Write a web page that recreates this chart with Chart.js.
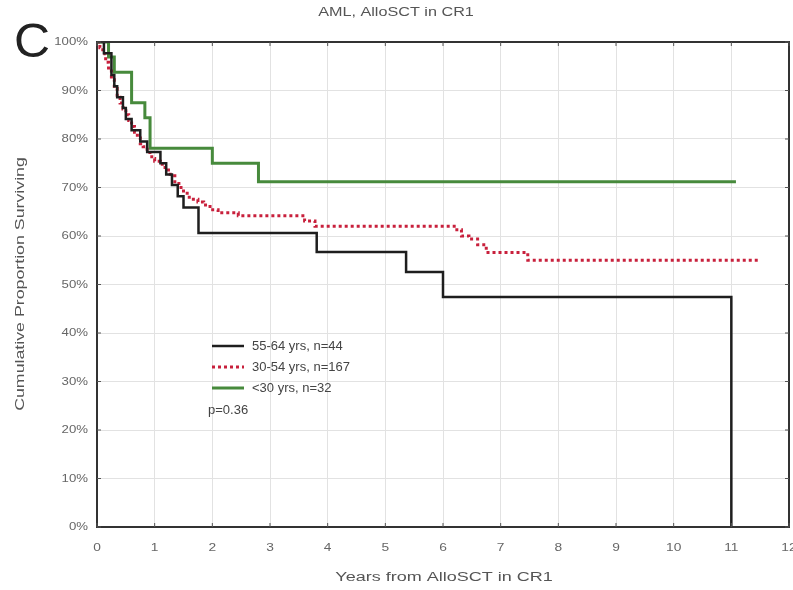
<!DOCTYPE html>
<html>
<head>
<meta charset="utf-8">
<title>AML, AlloSCT in CR1</title>
<script src="https://cdn.jsdelivr.net/npm/chart.js@4"></script>
<style>
  html, body { margin: 0; padding: 0; background: #fff; }
  #wrap { width: 793px; height: 590px; position: relative; }
</style>
</head>
<body>
<div id="wrap"><canvas id="km"></canvas></div>
<script>
// Kaplan-Meier survival by age group (years, % surviving)
const oldTimes = [0, 0.12, 0.25, 0.3, 0.35, 0.45, 0.5, 0.6, 0.75, 0.87, 1.1, 1.2, 1.3, 1.4, 1.5, 1.76, 3.81, 5.36, 6.0, 11.0, 11.0];
const oldSurv  = [100, 97.7, 93.2, 90.9, 88.6, 86.4, 84.1, 81.8, 79.5, 77.3, 75.0, 72.7, 70.5, 68.2, 65.9, 60.6, 56.7, 52.6, 47.4, 47.4, 0];

const midTimes = [0, 0.05, 0.1, 0.15, 0.2, 0.25, 0.3, 0.35, 0.4, 0.45, 0.5, 0.55, 0.6, 0.65, 0.7, 0.75, 0.8, 0.87, 0.95, 1.0, 1.1, 1.18, 1.27, 1.35, 1.42, 1.5, 1.6, 1.75, 1.85, 1.96, 2.1, 2.45, 3.6, 3.78, 6.24, 6.32, 6.45, 6.6, 6.75, 7.47, 11.5];
const midSurv  = [100, 98.8, 97.6, 95.8, 94.0, 92.2, 90.4, 88.6, 87.4, 86.2, 85.0, 83.8, 82.6, 81.4, 80.2, 79.0, 78.4, 77.2, 76.0, 75.4, 74.8, 73.6, 72.4, 71.2, 70.0, 68.8, 67.6, 67.0, 66.4, 65.4, 64.8, 64.2, 63.1, 62.0, 61.3, 60.0, 59.4, 58.2, 56.6, 55.0, 55.0];

const youngTimes = [0, 0.2, 0.3, 0.6, 0.83, 0.92, 2.0, 2.8, 11.08];
const youngSurv  = [100, 96.9, 93.75, 87.5, 84.4, 78.1, 75.0, 71.2, 71.2];

const groupLabels = ['55-64 yrs, n=44', '30-54 yrs, n=167', '<30 yrs, n=32'];
const pValueText = 'p=0.36';

const FONT = '"Liberation Sans", Arial, sans-serif';

function toPoints(times, surv) {
    return times.map((t, i) => ({x: t, y: surv[i]}));
}

// text drawn a bit wider than the font's normal proportions
function wideText(ctx, text, x, y, sx, align, angle) {
    ctx.save();
    ctx.translate(x, y);
    if (angle) ctx.rotate(angle);
    ctx.scale(sx, 1);
    ctx.textAlign = align;
    ctx.fillText(text, 0, 0);
    ctx.restore();
}

// titles, panel letter, tick labels, inner ticks, frame and the in-plot legend
const decorations = {
    id: 'decorations',
    afterDraw(chart) {
        const ctx = chart.ctx;
        const area = chart.chartArea;
        const xs = chart.scales.x, ys = chart.scales.y;
        ctx.save();

        // frame
        ctx.strokeStyle = '#333';
        ctx.lineWidth = 2;
        ctx.strokeRect(area.left, area.top, area.right - area.left, area.bottom - area.top);

        // short inward tick marks
        ctx.lineWidth = 1;
        ctx.strokeStyle = '#555';
        xs.ticks.forEach(t => {
            const px = xs.getPixelForValue(t.value);
            ctx.beginPath();
            ctx.moveTo(px, area.bottom); ctx.lineTo(px, area.bottom - 4);
            ctx.moveTo(px, area.top); ctx.lineTo(px, area.top + 4);
            ctx.stroke();
        });
        ys.ticks.forEach(t => {
            const py = ys.getPixelForValue(t.value);
            ctx.beginPath();
            ctx.moveTo(area.left, py); ctx.lineTo(area.left + 4, py);
            ctx.moveTo(area.right, py); ctx.lineTo(area.right - 4, py);
            ctx.stroke();
        });

        ctx.textBaseline = 'middle';

        // tick labels
        ctx.fillStyle = '#666';
        ctx.font = '11px ' + FONT;
        xs.ticks.forEach(t => {
            wideText(ctx, String(t.value), xs.getPixelForValue(t.value), 548, 1.25, 'center');
        });
        ys.ticks.forEach(t => {
            wideText(ctx, t.value + '%', area.left - 9, ys.getPixelForValue(t.value), 1.2, 'right');
        });

        ctx.fillStyle = '#555';
        ctx.font = '12px ' + FONT;
        // chart title
        wideText(ctx, 'AML, AlloSCT in CR1', 396, 13, 1.35, 'center');
        // x axis title
        wideText(ctx, 'Years from AlloSCT in CR1', 444, 578, 1.5, 'center');
        // y axis title
        wideText(ctx, 'Cumulative Proportion Surviving', 21, 284, 1.48, 'center', -Math.PI / 2);

        // panel letter
        ctx.fillStyle = '#222';
        ctx.font = '49px ' + FONT;
        wideText(ctx, 'C', 14, 43, 1.02, 'left');

        // legend
        const rows = [346, 367, 388];
        ctx.font = '13px ' + FONT;
        chart.data.datasets.forEach((ds, i) => {
            const y = rows[i];
            ctx.save();
            ctx.strokeStyle = ds.borderColor;
            ctx.lineWidth = ds.borderWidth;
            ctx.setLineDash(ds.borderDash || []);
            ctx.beginPath();
            ctx.moveTo(212, y);
            ctx.lineTo(244, y);
            ctx.stroke();
            ctx.restore();
            ctx.fillStyle = '#444';
            ctx.textAlign = 'left';
            ctx.fillText(groupLabels[i], 252, y);
        });
        ctx.fillText(pValueText, 208, 410);

        ctx.restore();
    }
};

const ctx = document.getElementById('km').getContext('2d');
const chart = new Chart(ctx, {
    type: 'line',
    data: {
        datasets: [
            {
                label: groupLabels[0],
                data: toPoints(oldTimes, oldSurv),
                borderColor: '#1e1e1e',
                borderWidth: 2.5,
                stepped: true,
                pointRadius: 0,
                fill: false
            },
            {
                label: groupLabels[1],
                data: toPoints(midTimes, midSurv),
                borderColor: '#c8203c',
                borderWidth: 3,
                borderDash: [3, 3],
                stepped: true,
                pointRadius: 0,
                fill: false
            },
            {
                label: groupLabels[2],
                data: toPoints(youngTimes, youngSurv),
                borderColor: '#478a3c',
                borderWidth: 3,
                stepped: true,
                pointRadius: 0,
                fill: false
            }
        ]
    },
    options: {
        responsive: true,
        maintainAspectRatio: false,
        animation: false,
        layout: {padding: {top: 42, right: 4, left: 0, bottom: 0}},
        plugins: {
            legend: {display: false},
            tooltip: {enabled: false}
        },
        scales: {
            x: {
                type: 'linear',
                min: 0,
                max: 12,
                ticks: {stepSize: 1, display: false},
                grid: {color: '#e2e2e2', drawTicks: false},
                border: {display: false},
                afterFit(scale) {
                    scale.height = 63;
                    scale.paddingLeft = 0;
                    scale.paddingRight = 0;
                }
            },
            y: {
                min: 0,
                max: 100,
                ticks: {stepSize: 10, display: false},
                grid: {color: '#e2e2e2', drawTicks: false},
                border: {display: false},
                afterFit(scale) {
                    scale.width = 97;
                    scale.paddingTop = 0;
                    scale.paddingBottom = 0;
                }
            }
        }
    },
    plugins: [decorations]
});
</script>
</body>
</html>
